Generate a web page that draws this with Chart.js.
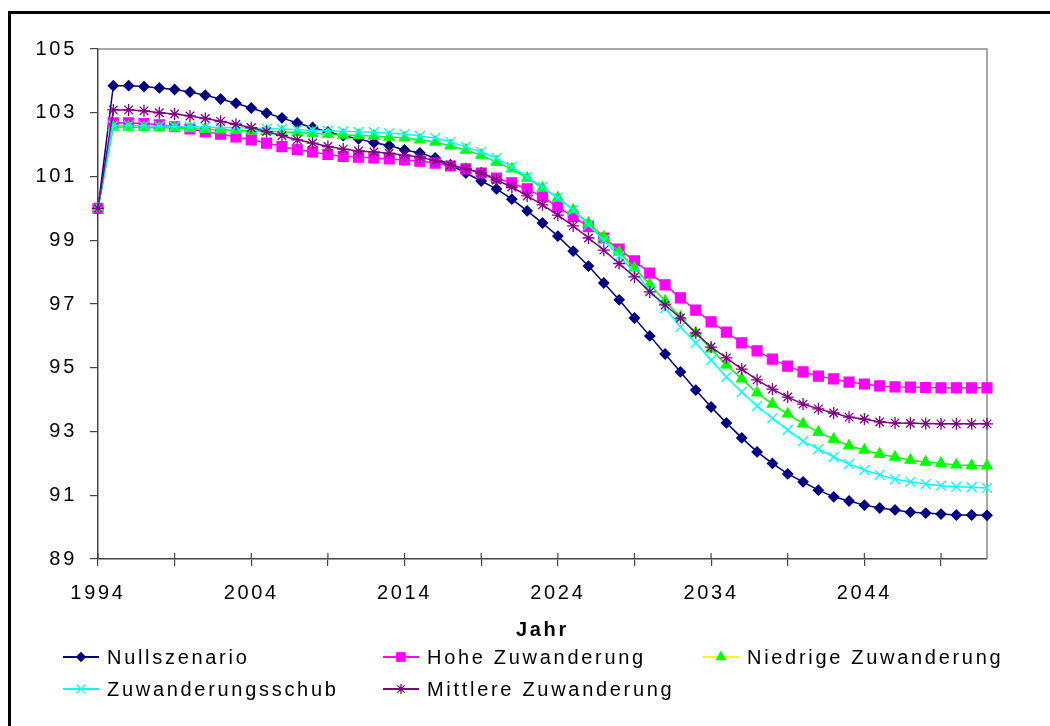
<!DOCTYPE html>
<html>
<head>
<meta charset="utf-8">
<script src="https://cdn.jsdelivr.net/npm/chart.js@4.4.1/dist/chart.umd.min.js"></script>
<style>
html, body { margin: 0; padding: 0; background: #fff; overflow: hidden; }
#frame { position: absolute; left: 8px; top: 11px; width: 1100px; height: 800px; border: 3px solid #000; }
#wrap { position: absolute; left: 0; top: 0; width: 1050px; height: 726px; }
</style>
</head>
<body>
<div id="frame"></div>
<div id="wrap"><canvas id="chart" width="1050" height="726"></canvas></div>
<script>
const years = [
    1994, 1995, 1996, 1997, 1998, 1999, 2000, 2001, 2002, 2003,
    2004, 2005, 2006, 2007, 2008, 2009, 2010, 2011, 2012, 2013,
    2014, 2015, 2016, 2017, 2018, 2019, 2020, 2021, 2022, 2023,
    2024, 2025, 2026, 2027, 2028, 2029, 2030, 2031, 2032, 2033,
    2034, 2035, 2036, 2037, 2038, 2039, 2040, 2041, 2042, 2043,
    2044, 2045, 2046, 2047, 2048, 2049, 2050, 2051, 2052
];

const nullszenario = [
    100, 103.85, 103.85, 103.82, 103.78, 103.73, 103.65, 103.55, 103.43, 103.3,
    103.15, 102.99, 102.84, 102.68, 102.54, 102.4, 102.28, 102.18, 102.06, 101.97,
    101.83, 101.74, 101.58, 101.36, 101.11, 100.86, 100.61, 100.29, 99.92, 99.54,
    99.13, 98.66, 98.19, 97.66, 97.13, 96.56, 96.0, 95.43, 94.87, 94.3,
    93.77, 93.27, 92.8, 92.36, 92.0, 91.67, 91.42, 91.16, 90.95, 90.82,
    90.69, 90.6, 90.54, 90.47, 90.44, 90.41, 90.38, 90.38, 90.37
];

const hoheZuwanderung = [
    100, 102.68, 102.68, 102.66, 102.62, 102.56, 102.49, 102.4, 102.33, 102.24,
    102.15, 102.05, 101.94, 101.84, 101.77, 101.69, 101.63, 101.61, 101.58, 101.55,
    101.52, 101.48, 101.42, 101.33, 101.24, 101.11, 100.95, 100.8, 100.61, 100.36,
    100.05, 99.74, 99.43, 99.07, 98.72, 98.35, 97.97, 97.6, 97.19, 96.81,
    96.44, 96.12, 95.78, 95.53, 95.27, 95.05, 94.87, 94.74, 94.65, 94.55,
    94.49, 94.43, 94.4, 94.39, 94.38, 94.37, 94.37, 94.37, 94.37
];

const niedrigeZuwanderung = [
    100, 102.55, 102.55, 102.54, 102.53, 102.52, 102.5, 102.48, 102.46, 102.45,
    102.43, 102.42, 102.4, 102.38, 102.36, 102.33, 102.3, 102.29, 102.27, 102.24,
    102.21, 102.15, 102.08, 101.96, 101.83, 101.67, 101.45, 101.24, 100.95, 100.64,
    100.33, 99.95, 99.54, 99.1, 98.63, 98.13, 97.62, 97.09, 96.59, 96.09,
    95.59, 95.09, 94.65, 94.21, 93.86, 93.55, 93.24, 92.98, 92.76, 92.55,
    92.42, 92.29, 92.2, 92.1, 92.04, 92.0, 91.95, 91.93, 91.92
];

const zuwanderungsschub = [
    100, 102.6, 102.6, 102.59, 102.58, 102.57, 102.56, 102.55, 102.54, 102.53,
    102.52, 102.5, 102.49, 102.47, 102.45, 102.43, 102.42, 102.4, 102.39, 102.36,
    102.33, 102.27, 102.21, 102.08, 101.93, 101.77, 101.58, 101.3, 100.98, 100.67,
    100.33, 99.95, 99.48, 99.0, 98.5, 98.0, 97.44, 96.87, 96.28, 95.78,
    95.24, 94.71, 94.24, 93.8, 93.42, 93.05, 92.7, 92.45, 92.2, 91.98,
    91.79, 91.64, 91.5, 91.42, 91.35, 91.3, 91.27, 91.25, 91.23
];

const mittlereZuwanderung = [
    100, 103.09, 103.09, 103.06, 103.0, 102.96, 102.9, 102.82, 102.73, 102.64,
    102.53, 102.41, 102.28, 102.15, 102.05, 101.94, 101.86, 101.8, 101.77, 101.73,
    101.67, 101.61, 101.49, 101.36, 101.24, 101.11, 100.89, 100.67, 100.39, 100.11,
    99.79, 99.45, 99.07, 98.69, 98.27, 97.85, 97.38, 96.97, 96.56, 96.09,
    95.65, 95.31, 94.96, 94.62, 94.33, 94.08, 93.86, 93.71, 93.58, 93.45,
    93.39, 93.3, 93.27, 93.26, 93.25, 93.24, 93.24, 93.24, 93.24
];

const seriesNames = ['Nullszenario', 'Hohe Zuwanderung', 'Niedrige Zuwanderung', 'Zuwanderungsschub', 'Mittlere Zuwanderung'];
const xTickMarks = [1994, 1999, 2004, 2009, 2014, 2019, 2024, 2029, 2034, 2039, 2044, 2049];
const xTickLabels = [1994, 2004, 2014, 2024, 2034, 2044];
const yTicks = [89, 91, 93, 95, 97, 99, 101, 103, 105];

const FONT = '"Liberation Sans", Arial, sans-serif';
const SPACING = '2.7px';

function pts(vals) {
    return vals.map((v, i) => ({ x: years[i], y: v }));
}

function series(i, vals, color, style, radius, legendLine) {
    return {
        label: seriesNames[i],
        data: pts(vals),
        borderColor: color,
        backgroundColor: color,
        borderWidth: 1.5,
        pointStyle: style,
        pointRadius: radius,
        pointHoverRadius: radius,
        pointBorderWidth: 1.3,
        pointBackgroundColor: color,
        pointBorderColor: color,
        tension: 0,
        clip: false,
        order: 5 - i,
        legendLine: legendLine || color
    };
}

// letter spacing like the original rendering
const spacingPlugin = {
    id: 'spacing',
    beforeUpdate(c) { c.ctx.letterSpacing = SPACING; },
    beforeDraw(c) { c.ctx.letterSpacing = SPACING; }
};

// gray top/right border of plot area + crossing tick marks on x axis
const framePlugin = {
    id: 'plotFrame',
    beforeDatasetsDraw(c) {
        const a = c.chartArea;
        const ctx = c.ctx;
        ctx.save();
        ctx.strokeStyle = '#8c8c8c';
        ctx.lineWidth = 1.5;
        ctx.beginPath();
        ctx.moveTo(a.left, a.top);
        ctx.lineTo(a.right, a.top);
        ctx.lineTo(a.right, a.bottom);
        ctx.stroke();

        const xs = c.scales.x;
        ctx.strokeStyle = '#444';
        ctx.lineWidth = 1.2;
        xs.ticks.forEach(t => {
            const px = xs.getPixelForValue(t.value);
            ctx.beginPath();
            ctx.moveTo(px, a.bottom);
            ctx.lineTo(px, a.bottom - 6);
            ctx.stroke();
        });
        ctx.restore();
    }
};

// Excel style legend: line with marker, then label
const legendPlugin = {
    id: 'lineLegend',
    afterDraw(c) {
        const ctx = c.ctx;
        const cols = [63, 383, 703];
        const rows = [657, 689];
        ctx.save();
        ctx.letterSpacing = SPACING;
        ctx.font = '20px ' + FONT;
        ctx.textBaseline = 'middle';
        ctx.textAlign = 'left';
        c.data.datasets.forEach((ds, i) => {
            const x = cols[i % 3];
            const y = rows[Math.floor(i / 3)];
            ctx.strokeStyle = ds.legendLine;
            ctx.lineWidth = 2;
            ctx.beginPath();
            ctx.moveTo(x, y);
            ctx.lineTo(x + 36, y);
            ctx.stroke();
            ctx.fillStyle = ds.pointBackgroundColor;
            ctx.strokeStyle = ds.pointBorderColor;
            ctx.lineWidth = 1.3;
            Chart.helpers.drawPoint(ctx, {
                pointStyle: ds.pointStyle,
                radius: ds.pointRadius * 0.85,
                borderWidth: 1.3,
                rotation: 0
            }, x + 18, y);
            ctx.fillStyle = '#000';
            ctx.fillText(ds.label, x + 44, y + 1);
        });
        ctx.restore();
    }
};

new Chart(document.getElementById('chart'), {
    type: 'line',
    data: {
        datasets: [
            series(0, nullszenario, '#000080', 'rectRot', 5),
            series(1, hoheZuwanderung, '#ff00ff', 'rect', 7),
            series(2, niedrigeZuwanderung, '#00ff00', 'triangle', 6, '#ffff00'),
            series(3, zuwanderungsschub, '#00ffff', 'crossRot', 7),
            series(4, mittlereZuwanderung, '#800080', 'star', 6)
        ]
    },
    options: {
        responsive: false,
        animation: false,
        events: [],
        layout: { padding: { top: 49, right: 63, left: 0, bottom: 0 } },
        plugins: {
            legend: { display: false },
            tooltip: { enabled: false }
        },
        scales: {
            x: {
                type: 'linear',
                min: 1994,
                max: 2052,
                afterBuildTicks: s => { s.ticks = xTickMarks.map(v => ({ value: v })); },
                afterFit: s => { s.height = 167; },
                grid: { drawOnChartArea: false, drawTicks: true, tickLength: 7, color: '#444', lineWidth: 1.2 },
                border: { color: '#444', width: 1.5 },
                ticks: {
                    autoSkip: false,
                    maxRotation: 0,
                    padding: 15,
                    color: '#000',
                    font: { family: FONT, size: 20 },
                    callback: v => xTickLabels.includes(v) ? String(v) : ''
                },
                title: {
                    display: true,
                    text: 'Jahr',
                    color: '#000',
                    font: { family: FONT, size: 20, weight: 'bold' },
                    padding: { top: 0, bottom: 84 }
                }
            },
            y: {
                min: 89,
                max: 105,
                afterBuildTicks: s => { s.ticks = yTicks.map(v => ({ value: v })); },
                afterFit: s => { s.width = 98; },
                grid: { drawOnChartArea: false, drawTicks: true, tickLength: 8, color: '#444', lineWidth: 1.2 },
                border: { color: '#444', width: 1.5 },
                ticks: {
                    padding: 13,
                    color: '#000',
                    font: { family: FONT, size: 20 }
                }
            }
        }
    },
    plugins: [spacingPlugin, framePlugin, legendPlugin]
});
</script>
</body>
</html>
